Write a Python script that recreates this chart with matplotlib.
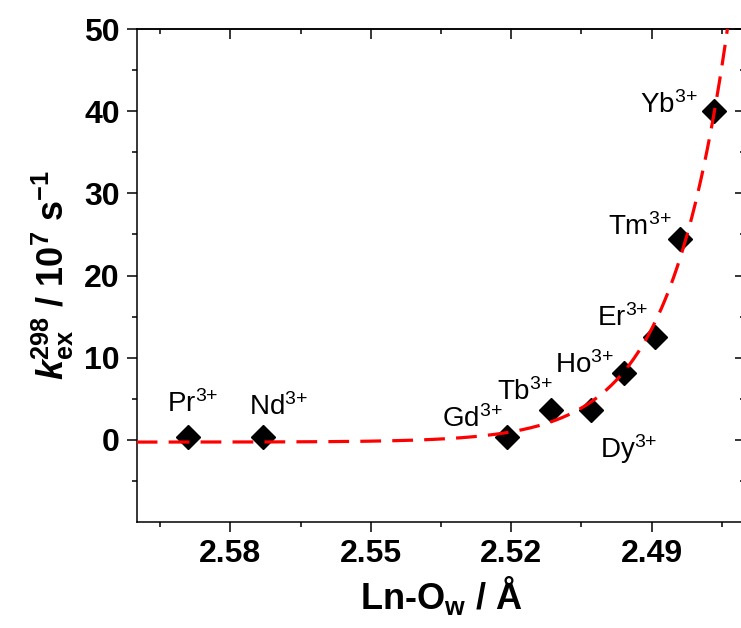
import numpy as np
import matplotlib
matplotlib.use("Agg")
import matplotlib.pyplot as plt

# === DATA ===
ions = ["Pr", "Nd", "Gd", "Tb", "Dy", "Ho", "Er", "Tm", "Yb"]
ln_ow = [2.589, 2.573, 2.521, 2.5115, 2.503, 2.4959, 2.4893, 2.484, 2.4766]   # Å
kex = [0.35, 0.35, 0.35, 3.6, 3.6, 8.15, 12.5, 24.4, 40.1]                  # 10^7 s^-1

# exponential fit  y = y0 + A*exp((x1 - x)/t)
FIT_Y0 = -0.3
FIT_A = 40.3
FIT_X1 = 2.4766
FIT_T = 0.0125

x_ticks = [2.58, 2.55, 2.52, 2.49]
x_ticklabels = ["2.58", "2.55", "2.52", "2.49"]
x_minor = [2.595, 2.565, 2.535, 2.505, 2.475]
y_ticks = [0, 10, 20, 30, 40, 50]
y_ticklabels = ["0", "10", "20", "30", "40", "50"]
y_minor = [-5, 5, 15, 25, 35, 45]

# label offsets (pixels, from marker to text baseline-left)
label_offsets = [(-21, 25), (-14, 22), (-65, 10), (-54, 10), (9, -48),
                 (-69, 0), (-58, 11), (-72, 4), (-74, -2)]

# === STYLE ===
plt.rcParams["font.family"] = ["Liberation Sans", "DejaVu Sans"]
plt.rcParams["mathtext.fontset"] = "custom"
plt.rcParams["mathtext.rm"] = "Liberation Sans"
plt.rcParams["mathtext.it"] = "Liberation Sans:italic"
plt.rcParams["mathtext.bf"] = "Liberation Sans:bold"
plt.rcParams["mathtext.bfit"] = "Liberation Sans:bold:italic"

fig = plt.figure(figsize=(7.41, 6.28), dpi=100)
ax = fig.add_axes([136.7 / 741, 106.3 / 628, 608.6 / 741, 492.4 / 628])

ax.plot(ln_ow, kex, linestyle="none", marker="D", markersize=12.5,
        color="black", zorder=3)

xfit = np.linspace(2.60, 2.47, 400)
yfit = FIT_Y0 + FIT_A * np.exp((FIT_X1 - xfit) / FIT_T)
ax.plot(xfit, yfit, color="#ff0000", lw=2.3, linestyle=(0, (6.5, 3.5)), zorder=4)

for ion, x, y, (dx, dy) in zip(ions, ln_ow, kex, label_offsets):
    ax.annotate(ion + "$^{3{+}}$", (x, y), xytext=(dx, dy), textcoords="offset pixels",
                ha="left", va="baseline", fontsize=20)

ax.set_xlim(2.60, 2.47)
ax.set_ylim(-10, 50)

ax.set_xticks(x_ticks)
ax.set_xticklabels(x_ticklabels, fontweight="bold", fontsize=23)
ax.set_xticks(x_minor, minor=True)
ax.set_yticks(y_ticks)
ax.set_yticklabels(y_ticklabels, fontweight="bold", fontsize=23)
ax.set_yticks(y_minor, minor=True)

ax.tick_params(which="major", direction="out", length=7.2, width=1.1, pad=5)
ax.tick_params(which="minor", direction="out", length=3.6, width=1.1)
for s in ax.spines.values():
    s.set_linewidth(1.1)

# top / right axes with inward ticks
top = ax.secondary_xaxis("top")
top.set_xticks(x_ticks)
top.set_xticks(x_minor, minor=True)
top.tick_params(which="major", direction="in", length=7.2, width=1.1, labeltop=False)
top.tick_params(which="minor", direction="in", length=3.6, width=1.1)
top.spines["top"].set_linewidth(1.1)

right = ax.secondary_yaxis("right")
right.set_yticks(y_ticks)
right.set_yticks(y_minor, minor=True)
right.tick_params(which="major", direction="in", length=7.2, width=1.1, labelright=False)
right.tick_params(which="minor", direction="in", length=3.6, width=1.1)
right.spines["right"].set_linewidth(1.1)

ax.set_xlabel(r"Ln-O$_{\mathbf{w}}$ / Å", fontsize=26, fontweight="bold", labelpad=4)
ax.set_ylabel(r"$\mathbfit{k}_{\mathbf{ex}}^{\mathbf{298}}$ / 10$^{\mathbf{7}}$ s$^{\mathbf{-1}}$",
              fontsize=26, fontweight="bold", labelpad=6)

fig.savefig("out.png", dpi=100)
